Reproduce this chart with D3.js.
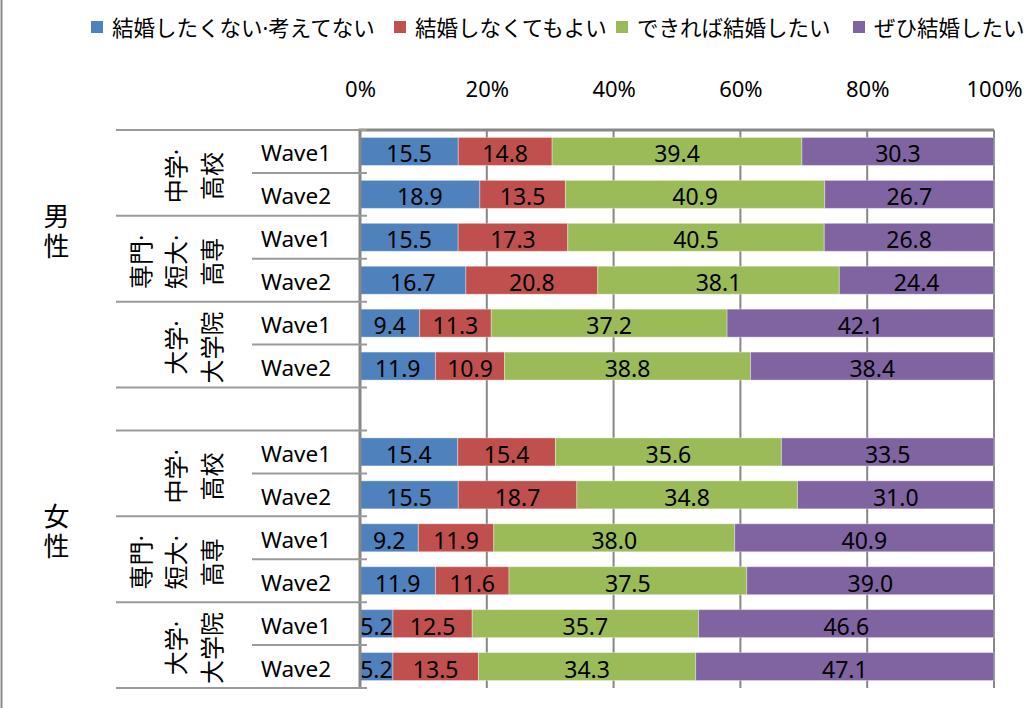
<!DOCTYPE html>
<html>
<head>
<meta charset="utf-8">
<script src="https://cdn.jsdelivr.net/npm/d3@7"></script>
<style>
  html, body { margin: 0; padding: 0; background: #fff; }
  svg { display: block; font-family: "Noto Sans", "Noto Sans CJK JP", sans-serif; }
</style>
</head>
<body>
<svg id="chart" width="1032" height="708"></svg>
<script>
// ---- data ----
const seriesNames = ["結婚したくない·考えてない", "結婚しなくてもよい", "できれば結婚したい", "ぜひ結婚したい"];
const genders = ["男性", "女性"];
const schoolLines = [["中学·", "高校"], ["専門·", "短大·", "高専"], ["大学·", "大学院"]];
const waves = ["Wave1", "Wave2"];
// rows: 男性(中学高校 W1,W2, 専門短大高専 W1,W2, 大学大学院 W1,W2), 女性(same)
const notWant    = [15.5, 18.9, 15.5, 16.7, 9.4, 11.9, 15.4, 15.5, 9.2, 11.9, 5.2, 5.2];
const okNot      = [14.8, 13.5, 17.3, 20.8, 11.3, 10.9, 15.4, 18.7, 11.9, 11.6, 12.5, 13.5];
const ifPossible = [39.4, 40.9, 40.5, 38.1, 37.2, 38.8, 35.6, 34.8, 38.0, 37.5, 35.7, 34.3];
const definitely = [30.3, 26.7, 26.8, 24.4, 42.1, 38.4, 33.5, 31.0, 40.9, 39.0, 46.6, 47.1];
const xTicks = [0, 0.2, 0.4, 0.6, 0.8, 1.0];

// ---- build rows ----
const colors = ["#4F81BD", "#C0504D", "#9BBB59", "#8064A2"];
const seriesVals = [notWant, okNot, ifPossible, definitely];
const rows = [];
let idx = 0;
genders.forEach((g, gi) => {
  schoolLines.forEach((s, si) => {
    waves.forEach((w, wi) => {
      const r = { key: `${gi}-${si}-${wi}`, gi, si, wi, wave: w };
      seriesNames.forEach((n, k) => r[n] = seriesVals[k][idx]);
      rows.push(r);
      idx++;
    });
  });
});
const domain = [];
rows.forEach((r, i) => { domain.push(r.key); if (i === 5) domain.push("gap"); });

const svg = d3.select("#chart");
const pLeft = 360, pRight = 994, pTop = 130, pBottom = 688;
const x = d3.scaleLinear().domain([0, 1]).range([pLeft, pRight]);
const y = d3.scaleBand().domain(domain).range([pTop, pBottom]).paddingInner(0.348).paddingOuter(0.174);
const step = y.step();
const off = (step - y.bandwidth()) / 2;
const gridColor = "#878787";

// outer frame left line
svg.append("line").attr("x1", 1.5).attr("x2", 1.5).attr("y1", 0).attr("y2", 708)
  .attr("stroke", "#8a8a8a").attr("stroke-width", 2);

// gridlines
svg.append("g").selectAll("line").data(xTicks.slice(1)).join("line")
  .attr("x1", d => x(d)).attr("x2", d => x(d)).attr("y1", pTop).attr("y2", pBottom)
  .attr("stroke", gridColor).attr("stroke-width", 2);

// top axis labels
const xAxis = d3.axisTop(x).tickValues(xTicks).tickFormat(d3.format(".0%")).tickSize(0).tickPadding(0);
const ax = svg.append("g").attr("transform", `translate(0,97)`).call(xAxis);
ax.select(".domain").remove();
ax.selectAll("text").attr("font-size", 22).attr("fill", "#000")
  .attr("font-family", "'Noto Sans', sans-serif").attr("dy", 0);

// stacked bars
const stack = d3.stack().keys(seriesNames).offset(d3.stackOffsetExpand);
const stacked = stack(rows);
const fmt = d3.format(".1f");
stacked.forEach((layer, k) => {
  const g = svg.append("g");
  g.selectAll("rect").data(layer).join("rect")
    .attr("x", d => x(d[0])).attr("width", d => x(d[1]) - x(d[0]))
    .attr("y", d => y(d.data.key)).attr("height", y.bandwidth())
    .attr("fill", colors[k])
    .attr("stroke", "rgba(255,255,255,0.35)").attr("stroke-width", 1);
  g.selectAll("text").data(layer).join("text")
    .attr("x", d => (x(d[0]) + x(d[1])) / 2)
    .attr("y", d => y(d.data.key) + y.bandwidth() / 2 + 11)
    .attr("text-anchor", "middle").attr("font-size", 23).attr("fill", "#000")
    .text(d => fmt(d.data[seriesNames[k]]));
});

// plot top border & left axis
svg.append("line").attr("x1", pLeft - 1.5).attr("x2", pRight).attr("y1", pTop).attr("y2", pTop)
  .attr("stroke", gridColor).attr("stroke-width", 3);
svg.append("line").attr("x1", pLeft).attr("x2", pLeft).attr("y1", pTop).attr("y2", pBottom)
  .attr("stroke", gridColor).attr("stroke-width", 3);

// category tick lines
const tickG = svg.append("g").attr("stroke", "#9a9a9a").attr("stroke-width", 2);
rows.forEach((r) => {
  const yt = y(r.key) - off;
  if (r.wi === 0) {
    tickG.append("line").attr("x1", 116).attr("x2", 367).attr("y1", yt).attr("y2", yt);
  } else {
    tickG.append("line").attr("x1", 252).attr("x2", 367).attr("y1", yt).attr("y2", yt);
  }
  if (r.wi === 1 && r.si === schoolLines.length - 1) {
    const yb = y(r.key) + y.bandwidth() + off;
    tickG.append("line").attr("x1", 116).attr("x2", 367).attr("y1", yb).attr("y2", yb);
  }
});

// wave labels
svg.append("g").selectAll("text").data(rows).join("text")
  .attr("x", 261).attr("y", d => y(d.key) + y.bandwidth() / 2 + 10)
  .attr("font-size", 22.5).attr("fill", "#000").text(d => d.wave);

// school group labels (rotated)
const lineGap = 35.5;
genders.forEach((g, gi) => {
  schoolLines.forEach((lines, si) => {
    const k1 = `${gi}-${si}-0`, k2 = `${gi}-${si}-1`;
    const cy = (y(k1) + y(k2) + y.bandwidth()) / 2 + 3;
    lines.forEach((ln, li) => {
      const cx = 211 - (lines.length - 1 - li) * lineGap;
      svg.append("text")
        .attr("transform", `translate(${cx},${cy}) rotate(-90)`)
        .attr("text-anchor", "middle").attr("dominant-baseline", "central")
        .attr("font-size", 24).attr("fill", "#000").text(ln);
    });
  });
  // gender label (vertical writing, one text)
  const sTop = y(`${gi}-0-0`) - off;
  const sBot = y(`${gi}-2-1`) + y.bandwidth() + off;
  const c = (sTop + sBot) / 2 - 28;
  svg.append("text").attr("x", 55).attr("y", c + 2)
    .style("writing-mode", "vertical-rl")
    .attr("text-anchor", "middle")
    .attr("letter-spacing", 4)
    .attr("font-size", 26).attr("fill", "#000").text(g);
});

// legend
const legendX = [91, 394, 616, 853];
const lg = svg.append("g");
seriesNames.forEach((n, k) => {
  lg.append("rect").attr("x", legendX[k]).attr("y", 21).attr("width", 12).attr("height", 12).attr("fill", colors[k]);
  lg.append("text").attr("x", legendX[k] + 21).attr("y", 27).attr("dominant-baseline", "central")
    .attr("font-size", 21.5).attr("fill", "#000").text(n);
});
</script>
</body>
</html>
